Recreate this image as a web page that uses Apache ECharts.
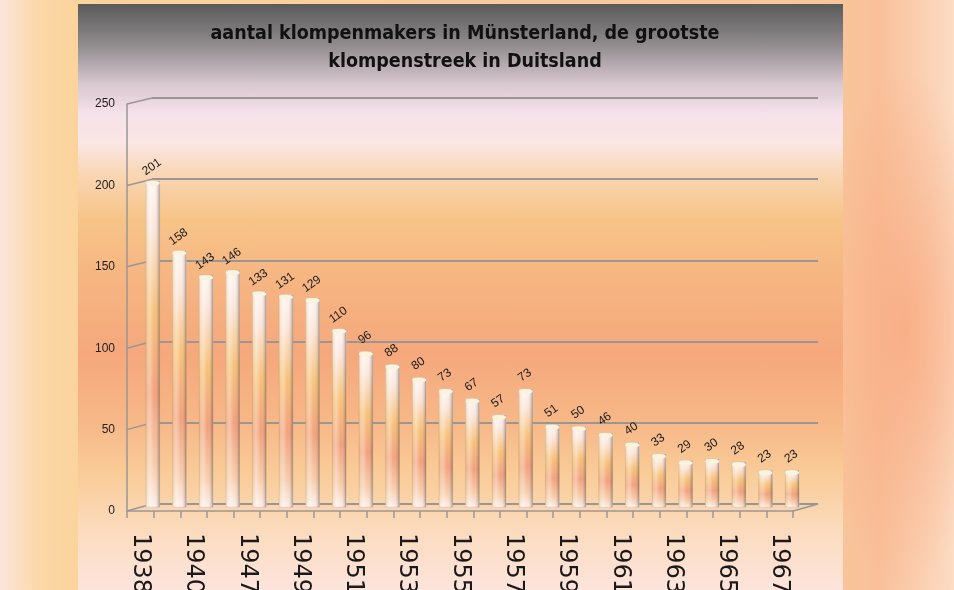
<!DOCTYPE html>
<html>
<head>
<meta charset="utf-8">
<script src="https://cdn.jsdelivr.net/npm/echarts@6/dist/echarts.min.js"></script>
<style>
  html, body { margin: 0; padding: 0; }
  body {
    width: 954px; height: 590px; overflow: hidden; position: relative;
    background:
      radial-gradient(ellipse 90px 260px at 905px 330px, rgba(248,170,130,0.85), rgba(248,170,130,0) 100%),
      linear-gradient(to right, #fde6dc 0px, #fbd8a8 40px, #fbd39c 78px, #f9c49a 843px, #f9c09a 880px, #fcdcc4 954px);
  }
  #panel {
    position: absolute; left: 78px; top: 4px; width: 765px; height: 586px;
    background: linear-gradient(to bottom,
      #5a5a5a 0px, #8f8a8c 40px, #d8c8d0 80px, #f6e2ea 110px, #fae6e2 140px,
      #f9d6b4 170px, #f7c488 215px, #f6b682 270px, #f5a87c 350px,
      #f7b888 420px, #f9cc98 470px, #fcdcc0 530px, #fde4dc 586px);
  }
  #chart { position: absolute; left: 0; top: 0; width: 954px; height: 590px; }
</style>
</head>
<body>
<div id="panel"></div>
<div id="chart"></div>
<script>
const years = ['1938', '1939', '1940', '1946', '1947', '1948', '1949', '1950', '1951', '1952', '1953', '1954', '1955',
  '1956', '1957', '1958', '1959', '1960', '1961', '1962', '1963', '1964', '1965', '1966', '1967']
const makers = [201, 158, 143, 146, 133, 131, 129, 110, 96, 88, 80, 73, 67, 57, 73, 51, 50, 46, 40, 33, 29, 30, 28, 23, 23]
const yTicks = [0, 50, 100, 150, 200, 250]

// front wall (axes), back wall (grid lines), bars sit halfway in depth
const front = { left: 127, right: 161, top: 104, bottom: 79 }
const back = { left: 152, right: 136, top: 98, bottom: 86 }
const mid = { left: 139.5, right: 148.5, top: 101, bottom: 82.5 }
const gray = '#9a9696'

const chart = echarts.init(document.getElementById('chart'))

const barFill = new echarts.graphic.LinearGradient(0, 0, 0, 1, [
  { offset: 0, color: '#fff6f4' },
  { offset: 0.15, color: '#fbe6dc' },
  { offset: 0.4, color: '#f7c077' },
  { offset: 0.65, color: '#f2a07a' },
  { offset: 0.87, color: '#f8ccaa' },
  { offset: 1, color: '#fdf0ee' }
])
const barShade = new echarts.graphic.LinearGradient(0, 0, 1, 0, [
  { offset: 0, color: 'rgba(240,210,150,0.5)' },
  { offset: 0.3, color: 'rgba(255,255,255,0.35)' },
  { offset: 0.6, color: 'rgba(255,255,255,0.0)' },
  { offset: 0.85, color: 'rgba(150,120,100,0.25)' },
  { offset: 1, color: 'rgba(90,80,80,0.6)' }
])

chart.setOption({
  animation: false,
  title: {
    text: 'aantal klompenmakers in Münsterland, de grootste\nklompenstreek in Duitsland',
    left: 460,
    top: 15,
    textAlign: 'center',
    textStyle: {
      fontFamily: 'Liberation Sans Narrow, DejaVu Sans Condensed, sans-serif',
      fontSize: 19.5,
      fontWeight: 'bold',
      color: '#111',
      lineHeight: 28
    }
  },
  grid: [
    Object.assign({ outerBoundsMode: 'none' }, front),
    Object.assign({ outerBoundsMode: 'none' }, back),
    Object.assign({ outerBoundsMode: 'none' }, mid)
  ],
  xAxis: [
    {
      gridIndex: 0, type: 'category', data: years,
      axisLine: { lineStyle: { color: gray, width: 1.5 } },
      axisTick: { show: true, interval: 0, length: 7, lineStyle: { color: gray, width: 1.5 } },
      axisLabel: {
        interval: 1, rotate: -90, margin: 22,
        fontFamily: 'DejaVu Sans', fontSize: 24, color: '#1a1a1a'
      }
    },
    { gridIndex: 1, type: 'category', data: years, show: false },
    { gridIndex: 2, type: 'category', data: years, show: false }
  ],
  yAxis: [
    {
      gridIndex: 0, type: 'value', min: 0, max: 250, interval: 50,
      axisLine: { show: true, lineStyle: { color: gray, width: 1.5 } },
      axisTick: { show: false },
      splitLine: { show: false },
      axisLabel: { margin: 12, fontFamily: 'Liberation Sans Narrow, sans-serif', fontSize: 12, color: '#222' }
    },
    {
      gridIndex: 1, type: 'value', min: 0, max: 250, interval: 50,
      axisLine: { show: false }, axisTick: { show: false }, axisLabel: { show: false },
      splitLine: { show: true, lineStyle: { color: gray, width: 2 } }
    },
    { gridIndex: 2, type: 'value', min: 0, max: 250, interval: 50, show: false, splitLine: { show: false } }
  ],
  series: [
    {
      type: 'bar', xAxisIndex: 2, yAxisIndex: 2, data: makers,
      barWidth: 14,
      itemStyle: { color: barFill }
    },
    {
      type: 'bar', xAxisIndex: 2, yAxisIndex: 2, data: makers,
      barWidth: 14, barGap: '-100%',
      itemStyle: { color: barShade, borderColor: 'rgba(140,130,120,0.5)', borderWidth: 0.5 },
      label: {
        show: true, position: 'top', distance: 7, rotate: 35, offset: [3, 0],
        fontFamily: 'Liberation Sans Narrow, sans-serif', fontSize: 12, color: '#1a1a1a'
      }
    },
    {
      type: 'pictorialBar', xAxisIndex: 2, yAxisIndex: 2, data: makers,
      symbol: 'circle', symbolSize: [14, 5], symbolPosition: 'end', symbolOffset: [0, 0],
      z: 5,
      itemStyle: { color: '#fbf3dc', borderColor: '#b0a898', borderWidth: 0.6 }
    }
  ]
})

// 3D connectors between front wall and back wall
const lines = []
yTicks.forEach(v => {
  const yf = chart.convertToPixel({ yAxisIndex: 0 }, v)
  const yb = chart.convertToPixel({ yAxisIndex: 1 }, v)
  lines.push({ x1: front.left, y1: yf, x2: back.left, y2: yb })
})
const y0f = chart.convertToPixel({ yAxisIndex: 0 }, 0)
const y0b = chart.convertToPixel({ yAxisIndex: 1 }, 0)
lines.push({ x1: 954 - front.right, y1: y0f, x2: 954 - back.right, y2: y0b })

chart.setOption({
  graphic: lines.map(s => ({
    type: 'line', shape: s, z: 1,
    style: { stroke: gray, lineWidth: 1.5 }
  }))
})
</script>
</body>
</html>
